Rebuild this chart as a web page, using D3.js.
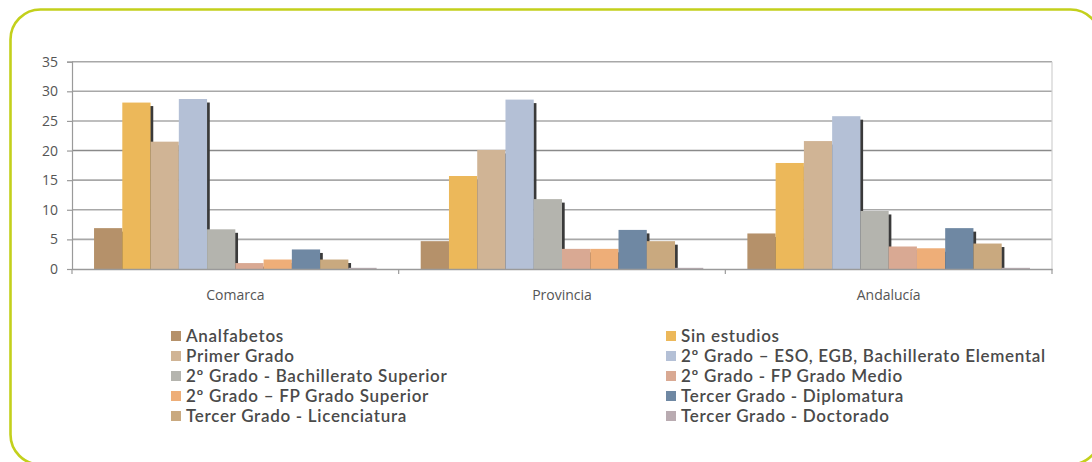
<!DOCTYPE html>
<html>
<head>
<meta charset="utf-8">
<script src="https://cdn.jsdelivr.net/npm/d3@7"></script>
<style>
html,body{margin:0;padding:0;background:#fff;}
svg{display:block;}
</style>
</head>
<body>
<svg id="chart" width="1092" height="462"></svg>
<script>
const categories = ["Comarca", "Provincia", "Andalucía"];
const seriesNames = [
  "Analfabetos",
  "Sin estudios",
  "Primer Grado",
  "2º Grado – ESO, EGB, Bachillerato Elemental",
  "2º Grado - Bachillerato Superior",
  "2º Grado - FP Grado Medio",
  "2º Grado – FP Grado Superior",
  "Tercer Grado - Diplomatura",
  "Tercer Grado - Licenciatura",
  "Tercer Grado - Doctorado"
];
const comarcaValues   = [6.9, 28.1, 21.5, 28.7, 6.7, 1.0, 1.6, 3.3, 1.6, 0.2];
const provinciaValues = [4.7, 15.7, 20.1, 28.6, 11.8, 3.4, 3.4, 6.6, 4.7, 0.2];
const andaluciaValues = [6.0, 17.9, 21.6, 25.8, 9.8, 3.8, 3.5, 6.9, 4.3, 0.2];
const yTicks = [0, 5, 10, 15, 20, 25, 30, 35];
const colors = ["#b5916a", "#ecb85a", "#d0b495", "#b4c0d6", "#b4b4ae", "#d9a993", "#eeae78", "#6f88a3", "#c9a97f", "#b9abb1"];

const values = [comarcaValues, provinciaValues, andaluciaValues];

const svg = d3.select("#chart");

// outer rounded frame
svg.append("rect")
  .attr("x", 10.5).attr("y", 9.5)
  .attr("width", 1090).attr("height", 455)
  .attr("rx", 30).attr("ry", 30)
  .attr("fill", "none")
  .attr("stroke", "#c3d01c")
  .attr("stroke-width", 2.6);

const plotLeft = 72, plotRight = 1052, plotTop = 61.7, plotBottom = 269;

const y = d3.scaleLinear().domain([0, 35]).range([plotBottom, plotTop]);
const x0 = d3.scaleBand().domain(categories).range([plotLeft, plotRight]).padding(0);
const x1 = d3.scaleBand().domain(d3.range(seriesNames.length))
  .range([0, x0.bandwidth()]).paddingInner(0).paddingOuter(0.78);

// gridlines
svg.append("g").selectAll("line").data(yTicks.filter(d => d > 0)).join("line")
  .attr("x1", plotLeft).attr("x2", plotRight)
  .attr("y1", d => y(d)).attr("y2", d => y(d))
  .attr("stroke", d => d === 20 ? "#8a8a8a" : "#a8a8a8")
  .attr("stroke-width", 1.6);

// right border of plot
svg.append("line")
  .attr("x1", plotRight).attr("x2", plotRight).attr("y1", plotTop).attr("y2", plotBottom)
  .attr("stroke", "#d0d0d0").attr("stroke-width", 1.2);

// y axis
const yAxis = svg.append("g").attr("transform", `translate(${plotLeft},0)`)
  .call(d3.axisLeft(y).tickValues(yTicks).tickSize(5).tickPadding(9));
yAxis.select(".domain").attr("stroke", "#9a9a9a").attr("stroke-width", 1.2);
yAxis.selectAll(".tick line").attr("stroke", "#9a9a9a").attr("stroke-width", 1.2);
yAxis.selectAll("text")
  .attr("fill", "#555")
  .style("font-family", "'Liberation Sans Narrow', 'Open Sans', sans-serif")
  .style("font-size", "14px");

// bars with shadows
const groups = svg.append("g").selectAll("g").data(categories).join("g")
  .attr("transform", d => `translate(${x0(d)},0)`);

groups.each(function(cat, ci) {
  const g = d3.select(this);
  values[ci].forEach((v, si) => {
    const bx = x1(si), bw = x1.bandwidth();
    g.append("rect")
      .attr("x", bx + bw - 0.5).attr("y", y(v) + 3.5)
      .attr("width", 3.2).attr("height", Math.max(0, plotBottom - y(v) - 3.5))
      .attr("fill", "#3a3a3a");
    g.append("rect")
      .attr("x", bx).attr("y", y(v))
      .attr("width", bw).attr("height", plotBottom - y(v))
      .attr("fill", colors[si]);
  });
});

// x axis
const xAxis = svg.append("g").attr("transform", `translate(0,${plotBottom})`)
  .call(d3.axisBottom(x0).tickSize(0).tickPadding(21));
xAxis.select(".domain").attr("stroke", "#9a9a9a").attr("stroke-width", 1.4);
xAxis.selectAll("text")
  .attr("fill", "#555")
  .style("font-family", "'Open Sans', sans-serif")
  .style("font-size", "14px");
svg.append("g").selectAll("line")
  .data(categories.map(c => x0(c)).concat([plotRight])).join("line")
  .attr("x1", d => d).attr("x2", d => d)
  .attr("y1", plotBottom).attr("y2", plotBottom + 5)
  .attr("stroke", "#9a9a9a").attr("stroke-width", 1.2);

// legend
const legendRows = [336, 356, 376, 396, 416];
const legendCols = [171, 666];
const legend = svg.append("g").selectAll("g").data(seriesNames).join("g")
  .attr("transform", (d, i) => `translate(${legendCols[i % 2]},${legendRows[Math.floor(i / 2)]})`);
legend.append("rect")
  .attr("x", 0).attr("y", -5).attr("width", 10).attr("height", 10)
  .attr("fill", (d, i) => colors[i]);
legend.append("text")
  .attr("x", 15).attr("y", 0).attr("dy", "0.36em")
  .attr("fill", "#4a4a4a")
  .style("font-family", "Lato, 'Open Sans', sans-serif")
  .style("font-size", "17px")
  .style("letter-spacing", "0.7px")
  .style("font-weight", "600")
  .text(d => d);
</script>
</body>
</html>
